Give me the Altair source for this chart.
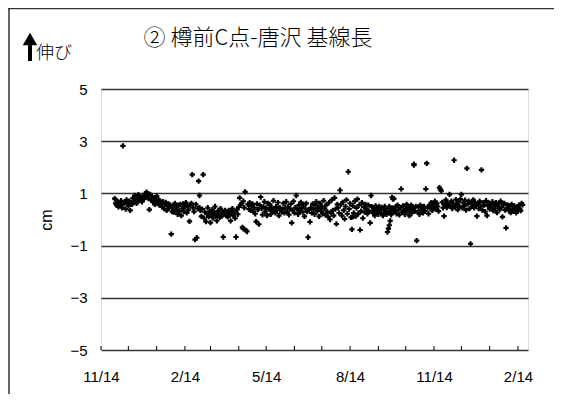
import altair as alt
import pandas as pd

title_text = "② 樽前C点-唐沢 基線長"
up_label = "伸び"
y_unit = "cm"

y_ticks = [-5, -3, -1, 1, 3, 5]
x_label_dates = ["2010-11-14", "2011-02-14", "2011-05-14", "2011-08-14", "2011-11-14", "2012-02-14"]
x_minor_dates = ["2010-11-14", "2010-12-14", "2011-01-14", "2011-02-14", "2011-03-14", "2011-04-14",
                 "2011-05-14", "2011-06-14", "2011-07-14", "2011-08-14", "2011-09-14", "2011-10-14",
                 "2011-11-14", "2011-12-14", "2012-01-14", "2012-02-14"]
x_domain = ["2010-11-14", "2012-02-25"]

# daily values (cm), each list starts at the given date
v_2010_11 = [0.80, 0.62]
v_2010_12 = [0.55, 0.70, 0.48, 0.66, 0.58, 0.72, 0.45, 2.82, 0.60, 0.68, 0.40, 0.75, 0.62, 0.52, 0.70, 0.35,
             0.66, 0.58, 0.82, 0.70, 0.92, 0.76, 0.62, 0.85, 0.95, 0.72, 0.88, 0.80, 0.68, 0.90, 0.78]
v_2011_01 = [0.98, 0.86, 1.05, 0.92, 0.80, 0.38, 0.96, 0.74, 0.88, 0.66, 0.82, 0.58, 0.72, 0.90, 0.64, 0.76,
             0.55, 0.70, 0.62, 0.48, 0.68, 0.42, 0.58, 0.66, 0.35, 0.52, 0.60, 0.44, 0.55, -0.56, 0.30]
v_2011_02 = [0.50, 0.28, 0.62, 0.38, 0.45, 0.20, 0.55, 0.32, 0.58, 0.15, 0.42, 0.60, 0.30, 0.48, 0.65, 0.25,
             0.52, 0.38, -0.07, 0.55, 0.62, 1.72, 0.45, 0.30, -0.77, 0.58, -0.70, 0.42]
v_2011_03 = [1.47, 0.92, 0.35, 0.12, 0.40, 1.72, 0.05, 0.28, -0.08, 0.22, 0.45, 0.10, 0.30, -0.12, 0.18, 0.38,
             0.05, 0.25, 0.50, 0.15, -0.05, 0.32, 0.20, 0.08, 0.42, 0.12, 0.28, -0.67, 0.22, 0.35, 0.15]
v_2011_04 = [0.25, 0.10, 0.35, 0.18, -0.05, 0.30, 0.42, 0.15, 0.28, 0.05, -0.67, 0.38, 0.20, 0.48, 0.83, 0.55,
             0.62, -0.30, 0.70, 0.45, 1.06, -0.42, -0.46, 0.58, 0.40, 0.65, 0.35, 0.52, 0.60, 0.30]
v_2011_05 = [0.45, 0.22, -0.08, 0.60, 0.38, -0.18, 0.55, 0.86, 0.42, 0.18, 0.48, 0.68, 0.30, 0.44, 0.15, 0.62,
             0.40, 0.58, 0.20, 0.46, 0.32, 0.72, 0.42, 0.25, 0.50, 0.35, 0.65, 0.15, 0.45, 0.40, 0.28]
v_2011_06 = [0.40, 0.62, 0.25, 0.45, 0.68, 0.30, 0.48, 0.18, 0.42, 0.60, -0.13, 0.35, 0.70, 0.25, 0.46, 0.92,
             0.40, 0.20, 0.55, 0.32, 0.66, 0.44, 0.28, 0.58, 0.12, 0.42, 0.62, 0.30, -0.68, 0.38]
v_2011_07 = [-0.09, 0.45, 0.25, 0.60, 0.40, 0.20, 0.55, 0.68, 0.32, 0.44, 0.12, 0.62, 0.35, 0.50, 0.22, 0.72,
             0.42, 0.18, 0.56, 0.30, 0.10, 0.65, 0.00, 0.25, 0.75, 0.35, 0.15, 0.83, 0.40, -0.17, 0.58]
v_2011_08 = [0.45, 0.25, 1.12, 0.58, 0.15, 0.66, 0.35, 0.02, 0.50, 0.75, 0.22, 1.83, 0.40, 0.62, 0.08, -0.38,
             0.52, 0.25, 0.70, 0.12, 0.44, 0.78, 0.22, 0.55, -0.40, 0.32, 0.65, 0.05, 0.48, 0.28, 0.58]
v_2011_09 = [0.40, 0.22, 0.55, 0.32, -0.13, 0.92, 0.48, 0.25, 0.38, 0.15, 0.52, 0.30, 0.45, 0.20, 0.50, 0.36,
             0.25, 0.46, 0.15, 0.38, 0.50, 0.28, 0.20, 0.42, 0.26, 0.50, 0.32, 0.18, 0.44, 0.30]
v_2011_10 = [0.80, 0.35, 0.50, 0.22, 0.55, 0.38, 0.18, 0.45, 1.17, 0.28, 0.52, 0.34, 0.20, 0.42, 0.58, 0.30,
             0.46, 0.15, 0.38, 0.55, 0.25, 0.44, 2.12, 0.32, 0.50, -0.81, 0.28, 0.48, 0.20, 0.55, 0.36]
v_2011_11 = [0.42, 0.25, 0.50, 0.32, 1.17, 2.15, 0.45, 0.22, 0.55, 0.45, 0.65, 0.35, 0.58, 0.48, 0.70, 0.40,
             0.62, 0.50, 0.32, 1.22, 1.15, 1.10, 0.66, 0.45, 0.13, 0.58, 0.75, 0.46, 0.62, 0.52]
v_2011_12 = [0.96, 0.52, 0.70, 0.42, 0.62, 2.27, 0.48, 0.76, 0.58, 0.38, 0.68, 0.50, 0.78, 0.96, 0.45, 0.64,
             0.52, 0.74, 0.36, 1.96, 0.60, 0.70, 0.42, -0.93, 0.62, 0.50, 0.75, 0.45, 0.66, 0.55, 0.13]
v_2012_01 = [0.60, 0.42, 0.70, 0.50, 1.90, 0.36, 0.65, 0.55, 0.30, 0.72, 0.15, 0.52, 0.64, 0.40, 0.60, 0.46,
             0.68, 0.34, 0.56, 0.42, 0.65, 0.26, 0.50, 0.62, 0.38, 0.70, 0.46, 0.10, 0.58, 0.62, 0.36]
v_2012_02 = [-0.32, 0.45, 0.55, 0.35, 0.50, 0.26, 0.58, 0.40, 0.32, 0.52, 0.38, 0.25, 0.48, 0.35, 0.55, 0.42,
             0.34, 0.62, 0.56]

series = [("2010-11-29", v_2010_11), ("2010-12-01", v_2010_12), ("2011-01-01", v_2011_01),
          ("2011-02-01", v_2011_02), ("2011-03-01", v_2011_03), ("2011-04-01", v_2011_04),
          ("2011-05-01", v_2011_05), ("2011-06-01", v_2011_06), ("2011-07-01", v_2011_07),
          ("2011-08-01", v_2011_08), ("2011-09-01", v_2011_09), ("2011-10-01", v_2011_10),
          ("2011-11-01", v_2011_11), ("2011-12-01", v_2011_12), ("2012-01-01", v_2012_01),
          ("2012-02-01", v_2012_02)]

# additional points on days that have two measurements
extra_dates = ["2011-09-24", "2011-09-25", "2011-09-26", "2011-09-27", "2011-09-29", "2011-09-30",
               "2011-10-23", "2011-03-02", "2011-04-19", "2011-08-17"]
extra_vals = [-0.48, -0.35, -0.22, -0.05, 0.85, 0.78, 2.08, 0.45, -0.36, 0.10]

rows = []
for start, vals in series:
    for d, v in zip(pd.date_range(start, periods=len(vals), freq="D"), vals):
        rows.append({"date": d.strftime("%Y-%m-%dT00:00:00"), "value": v})
for d, v in zip(extra_dates, extra_vals):
    rows.append({"date": d + "T00:00:00", "value": v})
df = pd.DataFrame(rows)


def dt(s):
    y, m, d = (int(p) for p in s.split("-"))
    return alt.DateTime(year=y, month=m, date=d)


FONT = "Noto Sans CJK JP"
NUMFONT = "Liberation Sans"
W, H = 427, 261

x_scale = alt.Scale(domain=[dt(x_domain[0]), dt(x_domain[1])])
y_scale = alt.Scale(domain=[-5, 5], nice=False)

points = alt.Chart(df).mark_point(shape="cross", filled=True, size=28, color="black", opacity=1).encode(
    x=alt.X("date:T", scale=x_scale,
            axis=alt.Axis(values=[dt(s) for s in x_label_dates], format="%-m/%-d", title=None,
                          ticks=False, domain=False, grid=False, labelPadding=19, labelFlush=False,
                          labelFont=NUMFONT, labelFontSize=15, labelColor="black")),
    y=alt.Y("value:Q", scale=y_scale,
            axis=alt.Axis(values=y_ticks, title=None, ticks=False, domain=False, grid=True,
                          gridColor="#333333", gridWidth=1.5, labelPadding=14,
                          labelFont=NUMFONT, labelFontSize=15, labelColor="black")),
)

tick_df = pd.DataFrame({"date": [s + "T00:00:00" for s in x_minor_dates]})
minor_ticks = alt.Chart(tick_df).mark_rule(color="black", strokeWidth=1).encode(
    x=alt.X("date:T", scale=x_scale),
    y=alt.value(H),
    y2=alt.value(H - 4),
)

one = alt.Data(values=[{"k": 1}])

title = alt.Chart(one).mark_text(text=title_text, font=FONT, fontSize=22, fontWeight=300, align="center",
                                 baseline="middle", color="black").encode(
    x=alt.value(157), y=alt.value(-51))
up_text = alt.Chart(one).mark_text(text=up_label, font=FONT, fontSize=18, fontWeight=300, align="left",
                                   baseline="middle", color="black").encode(
    x=alt.value(-65), y=alt.value(-35))
unit_text = alt.Chart(one).mark_text(text=y_unit, font=NUMFONT, fontSize=16, align="center",
                                     baseline="middle", angle=270, color="black").encode(
    x=alt.value(-54), y=alt.value(131))
arrow_shaft = alt.Chart(one).mark_rule(color="black", strokeWidth=4).encode(
    x=alt.value(-71), y=alt.value(-46), y2=alt.value(-28))
arrow_head = alt.Chart(one).mark_point(shape="triangle-up", filled=True, size=210, color="black",
                                       opacity=1).encode(
    x=alt.value(-71), y=alt.value(-50))
frame_left = alt.Chart(one).mark_rule(color="#333333", strokeWidth=1.5).encode(
    x=alt.value(-92), y=alt.value(-81), y2=alt.value(H + 60))
frame_top = alt.Chart(one).mark_rule(color="#333333", strokeWidth=1.5).encode(
    y=alt.value(-80.5), x=alt.value(-93), x2=alt.value(W + 40))

chart = alt.layer(
    points, minor_ticks, title, up_text, unit_text, arrow_shaft, arrow_head, frame_left, frame_top
).properties(
    width=W, height=H,
    padding={"left": 93, "top": 81, "right": 26, "bottom": 44},
    autosize=alt.AutoSizeParams(type="none"),
).configure_view(
    stroke="black", strokeWidth=1.5
).configure(background="white")

chart.save("out.html", embed_options={"renderer": "svg", "actions": False})
